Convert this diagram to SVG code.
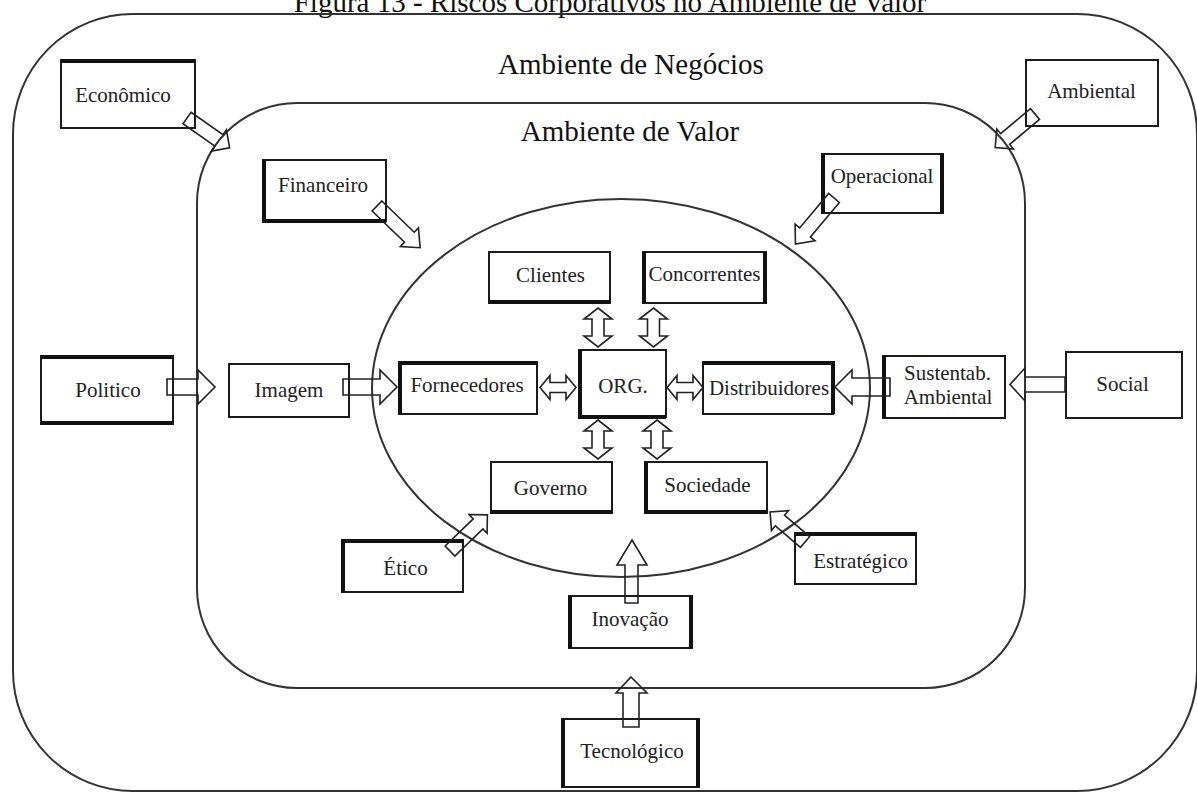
<svg xmlns="http://www.w3.org/2000/svg" width="1197" height="792" viewBox="0 0 1197 792">
<style>
.bg{fill:#fff}
.frame{fill:none;stroke:#333;stroke-width:2}
.box{fill:#fff;stroke:#1a1a1a;stroke-width:2}
.thk{fill:none;stroke:#111;stroke-width:4}
.arr{fill:none;stroke:#222;stroke-width:1.6;stroke-linejoin:miter}
.lbl{font-family:"Liberation Serif","Times New Roman",serif;font-size:21px;fill:#222;text-anchor:middle}
.hd{font-family:"Liberation Serif","Times New Roman",serif;font-size:29px;fill:#111;text-anchor:middle}
</style>
<defs>
<path id="d52" d="M0,-7 H39 V-13 L52,0 L39,13 V7 H0 Z"/>
<path id="d60" d="M0,-7 H45 V-13 L60,0 L45,13 V7 H0 Z"/>
<path id="d46" d="M0,-7 H33 V-13 L46,0 L33,13 V7 H0 Z"/>
<path id="dv" d="M0,0 L14,11 H6 V28 H14 L0,39 L-14,28 H-6 V11 H-14 Z"/>
<path id="dh" d="M0,0 L10,-12 V-5 H26 V-12 L36,0 L26,12 V5 H10 V12 Z"/>
</defs>
<rect class="bg" x="0" y="0" width="1197" height="792"/>
<text class="hd" x="610" y="12">Figura 13 - Riscos Corporativos no Ambiente de Valor</text>
<g id="ambiente-negocios">
<rect class="frame" x="13" y="14" width="1184" height="777" rx="120" ry="120"/>
<text class="hd" x="631" y="74">Ambiente de Negócios</text>
</g>
<g id="ambiente-valor">
<rect class="frame" x="197" y="103" width="828" height="585" rx="100" ry="100"/>
<text class="hd" x="630" y="141">Ambiente de Valor</text>
</g>
<g id="ellipse">
<ellipse class="frame" cx="621" cy="388" rx="249" ry="189" stroke-width="1.6"/>
</g>
<g id="nodes">
<g id="economico"><rect class="box" x="61" y="60" width="134" height="68"/><path class="thk" d="M61,61 H195"/><text class="lbl" x="123" y="102">Econômico</text></g>
<g id="ambiental"><rect class="box" x="1026" y="60" width="132" height="66"/><text class="lbl" x="1091.5" y="98">Ambiental</text></g>
<g id="financeiro"><rect class="box" x="263" y="160" width="123" height="61"/><path class="thk" d="M264,160 V221 H386"/><text class="lbl" x="323" y="192">Financeiro</text></g>
<g id="operacional"><rect class="box" x="822" y="154" width="121" height="59"/><path class="thk" d="M823,154 V213 M942,154 V213"/><text class="lbl" x="882" y="183">Operacional</text></g>
<g id="politico"><rect class="box" x="41" y="356" width="132" height="68"/><path class="thk" d="M41,357 H173 M41,423 H173"/><text class="lbl" x="108" y="397">Politico</text></g>
<g id="imagem"><rect class="box" x="229" y="364" width="120" height="53"/><text class="lbl" x="289" y="397">Imagem</text></g>
<g id="fornecedores"><rect class="box" x="399" y="362" width="138" height="52"/><path class="thk" d="M400,414 V363 H537"/><text class="lbl" x="467" y="392">Fornecedores</text></g>
<g id="clientes"><rect class="box" x="489" y="252" width="121" height="51"/><path class="thk" d="M489,302 H610"/><text class="lbl" x="550.5" y="282">Clientes</text></g>
<g id="concorrentes"><rect class="box" x="643" y="252" width="123" height="51"/><path class="thk" d="M644,252 V303 M765,252 V303"/><text class="lbl" x="704.5" y="281">Concorrentes</text></g>
<g id="org"><rect class="box" x="579" y="350" width="87" height="67"/><path class="thk" d="M580,350 V417 H666"/><text class="lbl" x="623" y="393">ORG.</text></g>
<g id="distribuidores"><rect class="box" x="703" y="362" width="130" height="52"/><path class="thk" d="M703,363 H833 V414"/><text class="lbl" x="769" y="395">Distribuidores</text></g>
<g id="sustentab"><rect class="box" x="883" y="356" width="122" height="62"/><path class="thk" d="M884,356 V418"/><text class="lbl" x="947.5" y="380">Sustentab.</text><text class="lbl" x="948" y="404">Ambiental</text></g>
<g id="social"><rect class="box" x="1066" y="352" width="116" height="66"/><text class="lbl" x="1122.5" y="391">Social</text></g>
<g id="governo"><rect class="box" x="491" y="462" width="121" height="51"/><path class="thk" d="M491,512 H612"/><text class="lbl" x="550.5" y="495">Governo</text></g>
<g id="etico"><rect class="box" x="342" y="540" width="121" height="52"/><path class="thk" d="M343,592 V541 H463"/><text class="lbl" x="405.5" y="575">Ético</text></g>
<g id="sociedade"><rect class="box" x="645" y="462" width="122" height="51"/><path class="thk" d="M646,462 V512 H767"/><text class="lbl" x="707.5" y="492">Sociedade</text></g>
<g id="estrategico"><rect class="box" x="795" y="533" width="121" height="51"/><path class="thk" d="M795,534 H916"/><text class="lbl" x="860.5" y="568">Estratégico</text></g>
<g id="inovacao"><rect class="box" x="569" y="596" width="123" height="52"/><path class="thk" d="M570,596 V648 M691,596 V648"/><text class="lbl" x="630" y="626">Inovação</text></g>
<g id="tecnologico"><rect class="box" x="562" y="719" width="137" height="68"/><path class="thk" d="M563,719 V787 M698,719 V787"/><text class="lbl" x="632" y="758">Tecnológico</text></g>
</g>
<g id="connectors">
<use href="#d52" class="arr" transform="translate(187,118) rotate(35)"/>
<use href="#d52" class="arr" transform="translate(1035,114) rotate(140)"/>
<use href="#d60" class="arr" transform="translate(377,206) rotate(44)"/>
<use href="#d60" class="arr" transform="translate(834,198) rotate(130)"/>
<use href="#d52" class="arr" transform="translate(450,551) rotate(-44)"/>
<use href="#d46" class="arr" transform="translate(805,542) rotate(220.6)"/>
<path class="arr" d="M167,379 H198 V370 L215,387 L198,404 V395 H167 Z"/>
<path class="arr" d="M343,379 H380 V370 L397,387 L380,404 V395 H343 Z"/>
<path class="arr" d="M890,378 H852 V370 L835,387 L852,404 V396 H890 Z"/>
<path class="arr" d="M1065,377 H1025 V368 L1010,384.5 L1025,401 V392 H1065 Z"/>
<use href="#dh" class="arr" transform="translate(540,387.5)"/>
<use href="#dh" class="arr" transform="translate(667,387.5)"/>
<use href="#dv" class="arr" transform="translate(598,308)"/>
<use href="#dv" class="arr" transform="translate(653.5,308)"/>
<use href="#dv" class="arr" transform="translate(598,420)"/>
<use href="#dv" class="arr" transform="translate(657,420)"/>
<path class="arr" d="M632,540 L647,565 H638 V603 H625 V565 H617 Z"/>
<path class="arr" d="M631,677 L647,693 H639 V727 H623 V693 H616 Z"/>
</g>
</svg>
